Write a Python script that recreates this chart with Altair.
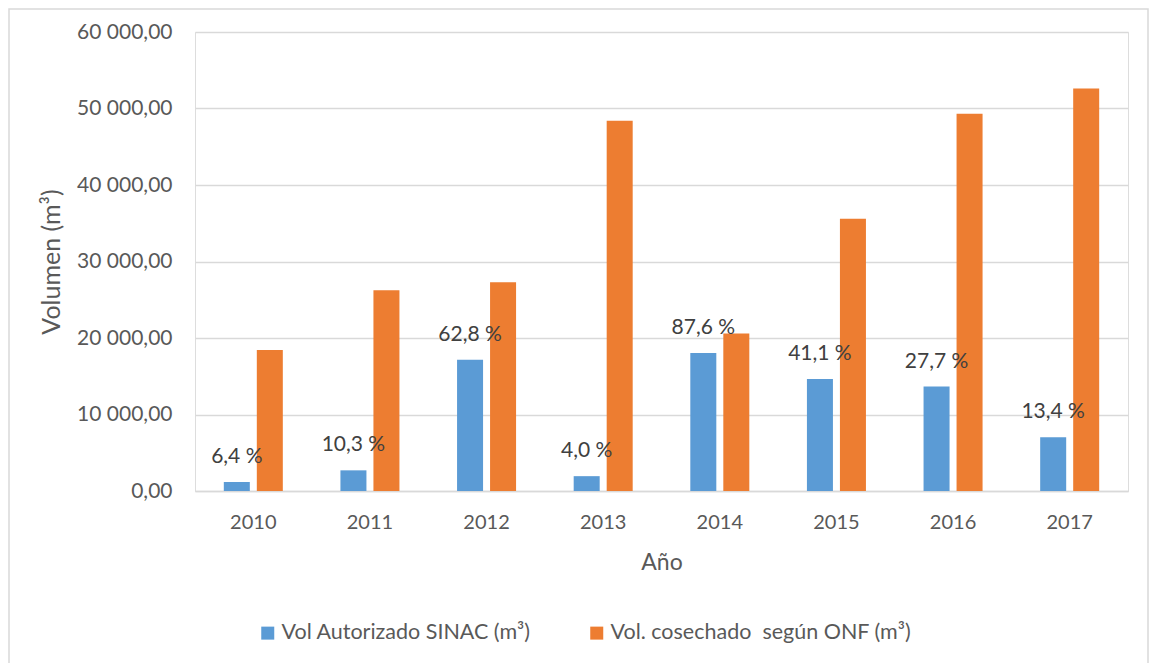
import altair as alt
import pandas as pd

years = ["2010", "2011", "2012", "2013", "2014", "2015", "2016", "2017"]
sinac = [1180, 2700, 17150, 1940, 18050, 14630, 13650, 7040]
onf = [18430, 26250, 27300, 48400, 20600, 35600, 49300, 52600]
pct_labels = ["6,4 %", "10,3 %", "62,8 %", "4,0 %", "87,6 %", "41,1 %", "27,7 %", "13,4 %"]
series_names = ["Vol Autorizado SINAC (m³)", "Vol. cosechado\u00a0 según ONF (m³)"]
colors = ["#5B9BD5", "#ED7D31"]
y_ticks = [0, 10000, 20000, 30000, 40000, 50000, 60000]

rows = []
for i, yr in enumerate(years):
    rows.append({"year": yr, "series": series_names[0], "value": sinac[i], "label": pct_labels[i]})
    rows.append({"year": yr, "series": series_names[1], "value": onf[i], "label": ""})
df = pd.DataFrame(rows)

FONT = "Lato"
GREY = "#595959"

x_enc = alt.X(
    "year:N",
    title="Año",
    sort=years,
    scale=alt.Scale(paddingInner=0.494, paddingOuter=0.247),
    axis=alt.Axis(
        labelAngle=0, ticks=False, tickSize=0, domainColor="#D9D9D9", domainWidth=1.5,
        labelFont=FONT, labelFontSize=20, labelColor=GREY, labelPadding=21,
        titleFont=FONT, titleFontSize=23, titleFontWeight="normal", titleColor=GREY,
        titlePadding=19,
    ),
)
xoff = alt.XOffset("series:N", sort=series_names,
                   scale=alt.Scale(paddingInner=0.212, paddingOuter=0))
y_enc = alt.Y(
    "value:Q",
    title="Volumen (m³)",
    scale=alt.Scale(domain=[0, 60000], nice=False),
    axis=alt.Axis(
        values=y_ticks, format=",.2f", ticks=False, tickSize=0, domain=False,
        gridColor="#D9D9D9", gridWidth=1.3,
        labelFont=FONT, labelFontSize=21, labelColor=GREY, labelPadding=23,
        titleFont=FONT, titleFontSize=25, titleFontWeight="normal", titleColor=GREY,
        titlePadding=12,
    ),
)

bars = alt.Chart(df).mark_bar().encode(
    x=x_enc,
    xOffset=xoff,
    y=y_enc,
    color=alt.Color(
        "series:N",
        sort=series_names,
        scale=alt.Scale(domain=series_names, range=colors),
        legend=alt.Legend(
            title=None, orient="none", legendX=62, legendY=590, direction="horizontal",
            symbolType="square", symbolSize=169, symbolStrokeWidth=0,
            labelFont=FONT, labelFontSize=21.5, labelColor=GREY, labelOffset=3,
            labelLimit=0, columnPadding=55,
        ),
    ),
)

labels = alt.Chart(df).mark_text(
    dy=-25, baseline="middle", align="center", font=FONT, fontSize=21, color="#404040"
).encode(
    x=alt.X("year:N", sort=years),
    xOffset=alt.XOffset("series:N", sort=series_names),
    y="value:Q",
    text="label:N",
)

frame = alt.Chart(pd.DataFrame({"a": [0]})).mark_rect(
    fill="transparent", stroke="#D9D9D9", strokeWidth=1.5
).encode(
    x=alt.value(-186), x2=alt.value(953), y=alt.value(-23), y2=alt.value(637)
)

chart = alt.layer(frame, bars, labels).properties(
    width=933,
    height=459,
    padding={"left": 187, "top": 24, "right": 21, "bottom": 172},
    autosize=alt.AutoSizeParams(type="none"),
    background="white",
).configure_view(stroke="transparent").configure(
    locale=alt.Locale(number=alt.NumberLocale(decimal=",", thousands=" ", grouping=[3], currency=["", ""]))
)

chart.save("out.html", embed_options={"renderer": "svg", "actions": False})
